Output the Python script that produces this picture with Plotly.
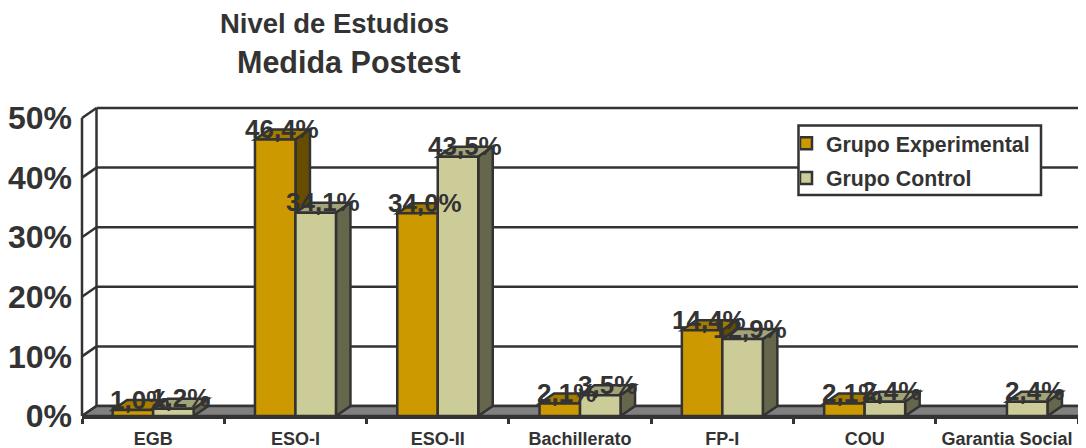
import plotly.graph_objects as go

categories = ["EGB", "ESO-I", "ESO-II", "Bachillerato", "FP-I", "COU", "Garantia Social"]
experimental = [1.0, 46.4, 34.0, 2.1, 14.4, 2.1, None]
control = [1.2, 34.1, 43.5, 3.5, 12.9, 2.4, 2.4]
y_ticks = [0, 10, 20, 30, 40, 50]
y_tick_labels = ["0%", "10%", "20%", "30%", "40%", "50%"]
series_names = ["Grupo Experimental", "Grupo Control"]

OFF = 8  # the page's own margin
W, H = 1086 - OFF, 448 - OFF
L, R, T, B = 82 - OFF, 0, 103 - OFF, 32
PX_PER_CAT = 142.3
PX_PER_UNIT = 5.96
DX = 14.5 / PX_PER_CAT
DY = 10 / PX_PER_UNIT
BAR_W = 40.5 / PX_PER_CAT
INK = "#333333"
LW = 2.5
FONT = "Liberation Sans, Arial, sans-serif"
x_max = -0.5 + (W - L - R) / PX_PER_CAT
y_max = (H - T - B) / PX_PER_UNIT
COLORS = [("#CC9900", "#A67C00", "#664D00"), ("#CCCC99", "#A3A37A", "#66664D")]


def px(x):
    return (x - OFF - L) / (W - L - R)


def py(y):
    return (H - B - (y - OFF)) / (H - T - B)


def poly(pts, fill):
    path = "M" + "L".join(f"{a},{b}" for a, b in pts) + "Z"
    return dict(type="path", path=path, xref="x", yref="y", fillcolor=fill,
                line=dict(color=INK, width=LW), layer="below")


def seg(x0, y0, x1, y1, xref="x", yref="y"):
    return dict(type="line", x0=x0, y0=y0, x1=x1, y1=y1, xref=xref, yref=yref,
                line=dict(color=INK, width=LW), layer="below")


shapes = []
# back wall grid lines and left wall
for v in y_ticks:
    shapes.append(seg(-0.5 + DX, v + DY, x_max + 1, v + DY))
    shapes.append(seg(0, v, DX * PX_PER_CAT / (W - L - R), v + DY, xref="paper"))
shapes.append(seg(-0.5 + DX, DY, -0.5 + DX, 50 + DY))
shapes.append(seg(0, 0, 0, 50, xref="paper"))
# floor
shapes.append(poly([(-0.5, 0), (-0.5 + DX, DY), (6.5 + DX, DY), (6.5, 0)], "#808080"))

# bar top and side faces, computed from the values
annotations = []
for i in range(len(categories)):
    for s, vals in enumerate([experimental, control]):
        v = vals[i]
        if v is None:
            continue
        x0 = i - BAR_W + s * BAR_W
        x1 = x0 + BAR_W
        front, top, side = COLORS[s]
        shapes.append(poly([(x0, v), (x0 + DX, v + DY), (x1 + DX, v + DY), (x1, v)], top))
        shapes.append(poly([(x1, 0), (x1 + DX, DY), (x1 + DX, v + DY), (x1, v)], side))
        annotations.append(dict(
            x=(x0 + x1) / 2, y=v, xref="x", yref="y", xshift=7, yshift=10.5,
            text=f"{v:.1f}%".replace(".", ","), showarrow=False,
            font=dict(family=FONT, size=26, color=INK, weight="bold"),
            xanchor="center", yanchor="middle"))

# second title line
annotations.append(dict(
    x=px(349), y=py(62), xref="paper", yref="paper", text="<b>Medida Postest</b>",
    showarrow=False, xanchor="center", yanchor="middle",
    font=dict(family=FONT, size=30.5, color=INK)))

# legend frame
shapes.append(dict(type="rect", xref="paper", yref="paper",
                   x0=px(798.5), x1=px(1041), y0=py(195), y1=py(125.5),
                   fillcolor="white", line=dict(color=INK, width=LW), layer="above"))

fig = go.Figure()
for s, vals in enumerate([experimental, control]):
    fig.add_trace(go.Bar(
        x=categories, y=vals, name=series_names[s], width=BAR_W,
        legendgroup=series_names[s],
        marker=dict(color=COLORS[s][0], line=dict(color=INK, width=LW))))

fig.update_layout(
    width=W, height=H, autosize=False,
    margin=dict(l=L, r=R, t=T, b=B, pad=0),
    paper_bgcolor="white", plot_bgcolor="white",
    barmode="group", bargap=1 - 2 * BAR_W, bargroupgap=0,
    shapes=shapes, annotations=annotations,
    title=dict(text="<b>Nivel de Estudios</b>",
               x=(334.5 - OFF) / W, xref="container", xanchor="center",
               y=1 - (23 - OFF) / H, yref="container", yanchor="middle",
               font=dict(family=FONT, size=27.5, color=INK)),
    legend=dict(x=px(800), y=py(127 - 4), xanchor="left", yanchor="top",
                bgcolor="rgba(0,0,0,0)", borderwidth=0,
                traceorder="grouped", tracegroupgap=4, indentation=-14,
                font=dict(family=FONT, size=21.3, color=INK, weight="bold")),
    xaxis=dict(type="category", categoryorder="array", categoryarray=categories,
               range=[-0.5, x_max], showgrid=False, zeroline=False,
               showline=True, linecolor=INK, linewidth=LW,
               ticks="outside", ticklen=5, tickwidth=LW, tickcolor=INK, tickson="boundaries",
               ticklabelstandoff=5,
               tickfont=dict(family=FONT, size=18, color=INK, weight="bold")),
    yaxis=dict(range=[0, y_max], tickvals=y_ticks, ticktext=y_tick_labels,
               showgrid=False, zeroline=False, showline=False, ticks="",
               ticklabelstandoff=9,
               tickfont=dict(family=FONT, size=32, color=INK, weight="bold")),
)
fig.write_html("out.html")
